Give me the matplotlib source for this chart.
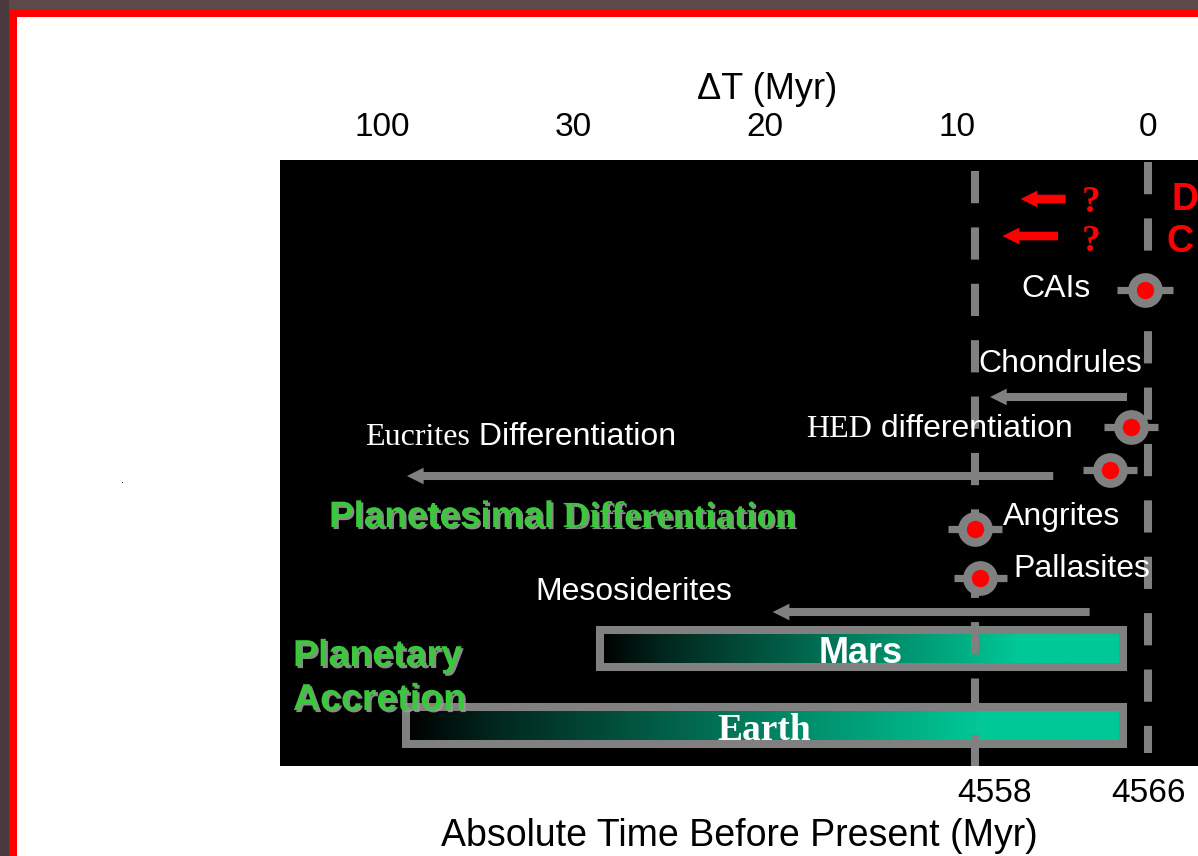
import numpy as np
import matplotlib
matplotlib.use('Agg')
import matplotlib.pyplot as plt
import matplotlib.patheffects as pe
from matplotlib.colors import LinearSegmentedColormap
from matplotlib.patches import Rectangle

SANS = 'Liberation Sans'
SERIF = 'Liberation Serif'
GRAY = '#808080'
GREEN = '#3cc83c'
TEAL = '#00c896'
RED = '#ff0000'

# top axis: Delta T (Myr), broken scale (100 squeezed in next to 30)
dt_tick_pos = [40, 30, 20, 10, 0]
dt_tick_lab = ['100', '30', '20', '10', '0']
# bottom axis: absolute age, Delta T = t_zero - age
t_zero = 4566
abs_ages = [4558, 4566]

# dashed reference lines
guide_dt = [9.03, 0.0]
guide_top = [11, 2]
guide_bottom = [606, 593]

# dated objects (Delta T, half error bar, row)
dated = ['CAIs', 'HED', 'Eucrites', 'Angrites', 'Pallasites']
dated_dt = [0.15, 0.9, 2.0, 9.05, 8.75]
dated_err = [1.45, 1.4, 1.4, 1.4, 1.4]
dated_row = [130, 267, 310, 369, 418]

# durations, arrows point to later times
spans = ['Chondrules', 'Eucrites Differentiation', 'Mesosiderites']
span_from = [1.1, 4.95, 3.05]
span_to = [8.25, 38.7, 19.6]
span_row = [237, 316, 452]

# unknown onsets (red arrows)
q_from = [4.3, 4.7]
q_to = [6.65, 7.6]
q_row = [39, 76]

# accretion time scales
planets = ['Mars', 'Earth']
planet_from = [28.62, 38.75]
planet_to = [1.31, 1.31]
planet_row = [488.5, 565.5]
planet_h = 37

fig = plt.figure(figsize=(11.98, 8.56), dpi=100)
fig.patch.set_facecolor('white')

# slide frame (top / left only)
W, H = 1198, 856
fig.add_artist(Rectangle((0, 1 - 9 / H), 1, 9 / H, transform=fig.transFigure, color='#5e4a48', lw=0))
fig.add_artist(Rectangle((0, 0), 9 / W, 1, transform=fig.transFigure, color='#4a3a3e', lw=0))
fig.add_artist(Rectangle((9 / W, 1 - 17 / H), 1, 8 / H, transform=fig.transFigure, color=RED, lw=0))
fig.add_artist(Rectangle((9 / W, 0), 8 / W, 1 - 9 / H, transform=fig.transFigure, color=RED, lw=0))
fig.text(121 / W, 1 - 483 / H, '.', fontsize=7, color='black')

ax = fig.add_axes([280 / W, 1 - 766 / H, 918 / W, 606 / H])
ax.set_facecolor('black')
for s in ax.spines.values():
    s.set_visible(False)

# accretion bars with dark -> teal gradient
cmap = LinearSegmentedColormap.from_list('acc', [(0, '#000000'), (0.12, '#02261d'),
                                                 (0.8, TEAL), (1, TEAL)])
grad = np.linspace(0, 1, 256)[None, :]
for name, a, b, r in zip(planets, planet_from, planet_to, planet_row):
    ax.imshow(grad, extent=(a, b, r + planet_h / 2, r - planet_h / 2), cmap=cmap,
              aspect='auto', interpolation='bilinear', zorder=2)
    ax.add_patch(Rectangle((b, r - planet_h / 2), a - b, planet_h, fill=False,
                           ec=GRAY, lw=5.8, joinstyle='miter', zorder=3))

# dashed guides
for g, t, bt in zip(guide_dt, guide_top, guide_bottom):
    ax.plot([g, g], [t, bt], color=GRAY, lw=5.8, linestyle=(0, (4, 3)),
            dash_capstyle='butt', zorder=4)

# duration arrows
for a, b, r in zip(span_from, span_to, span_row):
    ax.annotate('', xy=(b, r), xytext=(a, r),
                arrowprops=dict(arrowstyle='simple,head_length=12,head_width=12,tail_width=5.8',
                                mutation_scale=1, fc=GRAY, lw=0, shrinkA=0, shrinkB=0),
                zorder=4)
for a, b, r in zip(q_from, q_to, q_row):
    ax.annotate('', xy=(b, r), xytext=(a, r),
                arrowprops=dict(arrowstyle='simple,head_length=12,head_width=12,tail_width=6.2',
                                mutation_scale=1, fc=RED, lw=0, shrinkA=0, shrinkB=0),
                zorder=4)

# dated points
dt = np.array(dated_dt)
err = np.array(dated_err)
ax.hlines(dated_row, dt - err, dt + err, color=GRAY, lw=5.2, zorder=5)
ax.plot(dt, dated_row, 'o', ms=25, color=GRAY, mec='none', zorder=6)
ax.plot(dt, dated_row, 'o', ms=12.5, color=RED, mec='none', zorder=7)

lab = dict(color='white', size=23, va='baseline', ha='left', zorder=8)


def two_fonts(x, y, first, second, f1, f2, **kw):
    t1 = ax.text(x, y, first, family=f1, **kw)
    kw2 = dict(kw)
    kw2.pop('ha', None)
    kw2.pop('va', None)
    ax.annotate(second, xy=(1, y), xycoords=(t1, 'data'), family=f2,
                ha='left', va='baseline', **kw2)
    return t1


ax.text(6.63, 137, 'CAIs', family=SANS, **lab)
ax.text(8.88, 212, 'Chondrules', family=SANS, **lab)
two_fonts(17.86, 277, 'HED', ' differentiation', SERIF, SANS, **lab)
two_fonts(40.89, 285, 'Eucrites', ' Differentiation', SERIF, SANS, **lab)
ax.text(7.57, 365, 'Angrites', family=SANS, **lab)
ax.text(7.05, 417, 'Pallasites', family=SANS, **lab)
ax.text(32.0, 440, 'Mesosiderites', family=SANS, **lab)

shadow = [pe.withSimplePatchShadow(offset=(1.5, -1.5), shadow_rgbFace='#9a9a9a', alpha=0.9)]
green = dict(color=GREEN, size=26.5, weight='bold', va='baseline', ha='left', zorder=8,
             path_effects=shadow)
two_fonts(42.77, 367, 'Planetesimal', ' Differentiation', SANS, SERIF, **green)
green['size'] = 27
ax.text(44.65, 506, 'Planetary', family=SANS, **green)
ax.text(44.65, 550, 'Accretion', family=SANS, **green)

ax.text(14.99, 503, planets[0], family=SANS, size=26, weight='bold', color='white',
        ha='center', va='baseline', zorder=8)
ax.text(20.05, 580, planets[1], family=SERIF, size=27, weight='bold', color='white',
        ha='center', va='baseline', zorder=8)

for r in [52, 91]:
    ax.text(2.98, r, '?', family=SERIF, size=27, weight='bold', color=RED,
            ha='center', va='baseline', zorder=8)
ax.text(-1.2, 50, 'D', family=SANS, size=27, weight='bold', color=RED, ha='left',
        va='baseline', zorder=8, clip_on=True)
ax.text(-0.95, 92, 'C', family=SANS, size=27, weight='bold', color=RED, ha='left',
        va='baseline', zorder=8, clip_on=True)

ax.set_xlim(45.33, -2.61)
ax.set_ylim(606, 0)
ax.set_yticks([])

# bottom axis: absolute ages
ax.set_xticks([t_zero - a for a in abs_ages], labels=[str(a) for a in abs_ages])
ax.tick_params(axis='x', length=0, pad=9, labelsize=24, labelcolor='black')
for t in ax.get_xticklabels():
    t.set_family(SANS)
ax.set_xlabel('Absolute Time Before Present (Myr)', family=SANS, size=27, labelpad=6)

# top axis: Delta T
sec = ax.secondary_xaxis('top')
sec.set_xticks(dt_tick_pos, labels=dt_tick_lab)
sec.tick_params(length=0, pad=12, labelsize=24)
for t in sec.get_xticklabels():
    t.set_family(SANS)
for s in sec.spines.values():
    s.set_visible(False)
ax.text(19.9, -70, '\u0394T (Myr)', family=SANS, size=26, ha='center', va='center',
        clip_on=False)

fig.savefig('out.png', dpi=100, facecolor=fig.get_facecolor())
